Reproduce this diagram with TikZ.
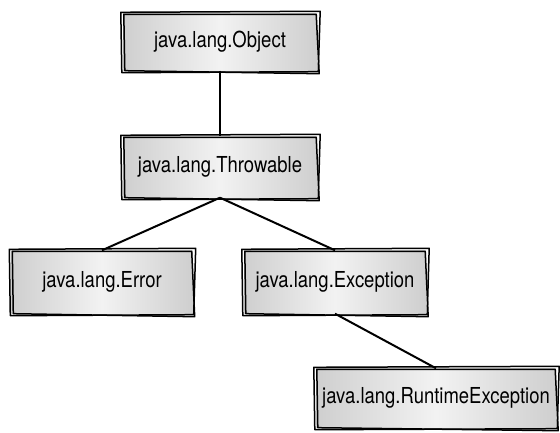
\documentclass[tikz,border=0pt]{standalone}
\usepackage{fontspec}
\setmainfont{TeX Gyre Heros}[FakeStretch=0.84]

\begin{document}
\begin{tikzpicture}[x=1pt,y=-1pt,
  every node/.style={font=\fontsize{22}{26}\selectfont},
  klass/.style={inner sep=0pt, left color=black!19, right color=black!19, middle color=black!5},
  outline/.style={line width=1.5pt, line join=round},
  link/.style={line width=2pt}]
  \useasboundingbox (0,0) rectangle (560,433);

  % helper: hand-drawn double frame round a box
  \newcommand{\handframe}[1]{%
    \draw[outline] ([shift={(-2,-1)}]#1.north west) -- ([shift={(3,-2)}]#1.north east)
      -- ([shift={(1,1)}]#1.south east) -- ([shift={(-1,2)}]#1.south west) -- cycle;
    \draw[outline] ([shift={(1,1)}]#1.north west) -- ([shift={(-1,1)}]#1.north east)
      -- ([shift={(2,3)}]#1.south east) -- ([shift={(2,0)}]#1.south west) -- cycle;
  }

  %--- class boxes
  \node[klass, minimum width=194, minimum height=57] (object)    at (220,42)  {java.lang.Object};
  \node[klass, minimum width=194, minimum height=61] (throwable) at (220,167) {java.lang.Throwable};
  \node[klass, minimum width=181, minimum height=63] (error)     at (102,282) {java.lang.Error};
  \node[klass, minimum width=182, minimum height=63] (exception) at (335,282) {java.lang.Exception};
  \node[klass, minimum width=240, minimum height=59] (runtime)   at (436,398) {java.lang.RuntimeException};

  \handframe{object}
  \handframe{throwable}
  \handframe{error}
  \handframe{exception}
  \handframe{runtime}

  %--- inheritance links
  \draw[link] (object.south) -- (throwable.north);
  \draw[link] (throwable.south) -- (error.north);
  \draw[link] (throwable.south) -- (exception.north);
  \draw[link] (exception.south) -- (runtime.north);
\end{tikzpicture}
\end{document}
